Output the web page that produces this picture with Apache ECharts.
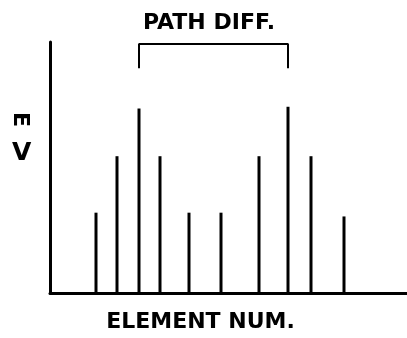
<!DOCTYPE html>
<html>
<head>
<meta charset="utf-8">
<script src="https://cdn.jsdelivr.net/npm/echarts@6/dist/echarts.min.js"></script>
<style>
  html, body { margin: 0; padding: 0; background: #fff; }
  #chart { width: 407px; height: 338px; }
</style>
</head>
<body>
<div id="chart"></div>
<script>
// element positions along the array and their amplitudes
let elementPos = [46, 67, 89, 110, 139, 171, 209, 238, 261, 294];
let amplitude = [3.2, 5.45, 7.35, 5.45, 3.2, 3.2, 5.45, 7.42, 5.45, 3.05];
// path difference bracket: between element 3 and element 8
let bracketFrom = 2, bracketTo = 7;
let bracketLow = 8.95, bracketHigh = 9.92;

let chart = echarts.init(document.getElementById('chart'));
let font = 'DejaVu Sans';

let barData = elementPos.map(function (x, i) { return [x, amplitude[i]]; });
let bracketData = [
  [elementPos[bracketFrom], bracketLow],
  [elementPos[bracketFrom], bracketHigh],
  [elementPos[bracketTo], bracketHigh],
  [elementPos[bracketTo], bracketLow]
];

let option = {
  animation: false,
  backgroundColor: '#fff',
  grid: { left: 50, right: 0, top: 42, bottom: 44 },
  title: {
    text: 'PATH DIFF.',
    left: 204, top: 7, textAlign: 'center',
    textStyle: { fontFamily: font, fontSize: 22, fontWeight: 'bold', color: '#000' }
  },
  xAxis: {
    type: 'value', min: 0, max: 357,
    name: 'ELEMENT NUM.', nameLocation: 'middle', nameGap: 18,
    nameTextStyle: { fontFamily: font, fontSize: 22, fontWeight: 'bold', color: '#000', padding: [0, 56, 0, 0] },
    axisLine: { show: true, lineStyle: { color: '#000', width: 3 } },
    axisTick: { show: false }, axisLabel: { show: false }, splitLine: { show: false }
  },
  yAxis: {
    type: 'value', min: 0, max: 10,
    axisLine: { show: true, lineStyle: { color: '#000', width: 3 } },
    axisTick: { show: false }, axisLabel: { show: false }, splitLine: { show: false }
  },
  graphic: [
    { type: 'text', x: 31, y: 112, rotation: -Math.PI / 2,
      style: { text: 'E', font: 'bold 22px "DejaVu Sans"', fill: '#000' } },
    { type: 'text', left: 12, top: 141,
      style: { text: 'V', font: 'bold 25px "DejaVu Sans"', fill: '#000' } }
  ],
  series: [
    {
      type: 'bar', data: barData, barWidth: 3,
      itemStyle: { color: '#000' }
    },
    {
      type: 'line', data: bracketData, symbol: 'none',
      lineStyle: { color: '#000', width: 2 }
    }
  ]
};

chart.setOption(option);
</script>
</body>
</html>
